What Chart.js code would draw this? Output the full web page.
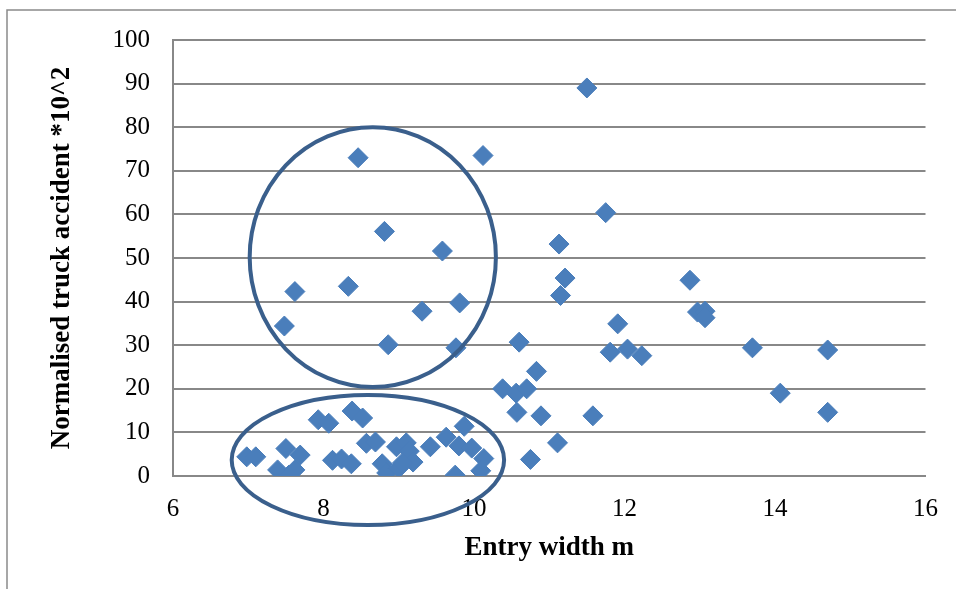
<!DOCTYPE html>
<html>
<head>
<meta charset="utf-8">
<script src="https://cdn.jsdelivr.net/npm/chart.js@4/dist/chart.umd.min.js"></script>
<style>
  html, body { margin: 0; padding: 0; background: #fff; }
  #wrap { width: 956px; height: 589px; position: relative; }
</style>
</head>
<body>
<div id="wrap"><canvas id="c" width="956" height="589"></canvas></div>
<script>
// Entry width (m) for each junction arm
const entryWidth = [
  11.50, 10.12, 8.46, 11.75, 8.81, 11.13, 9.58, 11.21, 8.33, 7.62,
  12.87, 11.15, 9.81, 9.31, 7.48, 11.91, 12.97, 13.07, 13.07, 8.86,
  9.76, 10.60, 11.81, 12.04, 12.23, 13.70, 14.70, 14.07, 14.70, 10.83,
  10.38, 10.56, 10.70, 10.57, 10.89, 11.58, 11.11, 10.75,
  6.98, 7.10, 7.50, 7.39, 7.54, 7.62, 7.69, 7.93, 8.07, 8.38,
  8.52, 8.12, 8.24, 8.37, 8.57, 8.69, 8.78, 8.84, 8.97, 9.10,
  9.14, 9.00, 9.19, 9.05, 9.42, 9.63, 9.87, 9.80, 9.97, 10.13,
  10.09, 9.75
];

// Normalised truck accidents (*10^2) for the same arms
const truckAccidents = [
  89.0, 73.5, 73.0, 60.4, 56.1, 53.2, 51.6, 45.4, 43.5, 42.3,
  44.9, 41.4, 39.7, 37.8, 34.4, 34.9, 37.6, 37.8, 36.3, 30.1,
  29.4, 30.7, 28.4, 29.1, 27.6, 29.4, 28.9, 19.0, 14.6, 24.0,
  20.0, 19.0, 20.0, 14.6, 13.8, 13.8, 7.6, 3.8,
  4.4, 4.4, 6.3, 1.4, 0.2, 1.4, 4.8, 12.9, 12.1, 14.9,
  13.3, 3.6, 3.9, 2.8, 7.5, 7.8, 2.8, 0.7, 6.7, 7.6,
  5.7, 1.8, 3.2, 3.0, 6.7, 8.9, 11.4, 6.9, 6.4, 4.0,
  1.2, 0.2
];

// Axis ticks
const xTicks = [6, 8, 10, 12, 14, 16];
const yTicks = [0, 10, 20, 30, 40, 50, 60, 70, 80, 90, 100];

// Highlighted groups: centre and half-extent in data units
const groupCentreX = [8.655, 8.59];
const groupCentreY = [50.2, 3.67];
const groupHalfX = [1.636, 1.81];
const groupHalfY = [29.8, 14.9];

const points = entryWidth.map((x, i) => ({ x: x, y: truckAccidents[i] }));

const serif = '"Liberation Serif", "Times New Roman", serif';
const gridGrey = '#888888';

// Outer frame lines of the figure
const framePlugin = {
  id: 'frame',
  beforeDraw(chart) {
    const ctx = chart.ctx;
    ctx.save();
    ctx.fillStyle = '#fff';
    ctx.fillRect(0, 0, chart.width, chart.height);
    ctx.strokeStyle = '#8a8a8a';
    ctx.lineWidth = 1.5;
    ctx.beginPath();
    ctx.moveTo(7, chart.height);
    ctx.lineTo(7, 10);
    ctx.lineTo(chart.width, 10);
    ctx.stroke();
    ctx.restore();
  }
};

// Ellipses marking the two groups, placed through the chart scales
const groupPlugin = {
  id: 'groups',
  afterDatasetsDraw(chart) {
    const ctx = chart.ctx;
    const xs = chart.scales.x, ys = chart.scales.y;
    ctx.save();
    ctx.strokeStyle = '#3a5f8c';
    ctx.lineWidth = 4;
    for (let i = 0; i < groupCentreX.length; i++) {
      const cx = xs.getPixelForValue(groupCentreX[i]);
      const cy = ys.getPixelForValue(groupCentreY[i]);
      const rx = Math.abs(xs.getPixelForValue(groupCentreX[i] + groupHalfX[i]) - cx);
      const ry = Math.abs(ys.getPixelForValue(groupCentreY[i] + groupHalfY[i]) - cy);
      ctx.beginPath();
      ctx.ellipse(cx, cy, rx, ry, 0, 0, Math.PI * 2);
      ctx.stroke();
    }
    ctx.restore();
  }
};

new Chart(document.getElementById('c'), {
  type: 'scatter',
  data: {
    datasets: [{
      label: 'Truck accidents',
      data: points,
      pointStyle: 'rectRot',
      pointRadius: 10,
      pointHoverRadius: 10,
      backgroundColor: '#4a7ebb',
      borderColor: '#4a7ebb',
      borderWidth: 1
    }]
  },
  options: {
    responsive: false,
    animation: false,
    devicePixelRatio: 1,
    layout: { padding: { top: 40, right: 28, left: 0, bottom: 0 } },
    plugins: {
      legend: { display: false },
      tooltip: { enabled: false }
    },
    scales: {
      x: {
        type: 'linear',
        min: xTicks[0],
        max: xTicks[xTicks.length - 1],
        afterBuildTicks(scale) { scale.ticks = xTicks.map(v => ({ value: v })); },
        afterFit(scale) { scale.height = 113; },
        grid: { display: false, drawTicks: false },
        border: { display: true, color: gridGrey, width: 2 },
        ticks: {
          padding: 18,
          color: '#000',
          font: { family: serif, size: 25 }
        },
        title: {
          display: true,
          text: 'Entry width m',
          color: '#000',
          font: { family: serif, size: 27, weight: 'bold' },
          padding: { top: 0, bottom: 25 }
        }
      },
      y: {
        type: 'linear',
        min: yTicks[0],
        max: yTicks[yTicks.length - 1],
        afterBuildTicks(scale) { scale.ticks = yTicks.map(v => ({ value: v })); },
        afterFit(scale) { scale.width = 173; },
        grid: { color: gridGrey, lineWidth: 2, drawTicks: false },
        border: { display: true, color: gridGrey, width: 2 },
        ticks: {
          padding: 23,
          color: '#000',
          font: { family: serif, size: 25 }
        },
        title: {
          display: true,
          text: 'Normalised truck accident *10^2',
          color: '#000',
          font: { family: serif, size: 27, weight: 'bold' },
          padding: { top: 46, bottom: 0 }
        }
      }
    }
  },
  plugins: [framePlugin, groupPlugin]
});
</script>
</body>
</html>
